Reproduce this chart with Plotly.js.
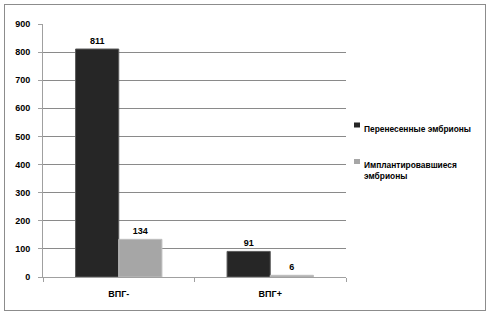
<!DOCTYPE html>
<html><head><meta charset="utf-8">
<script src="https://cdn.plot.ly/plotly-3.0.1.min.js"></script>
<style>
body{margin:0;padding:0;background:#fff;}
#frame{position:absolute;left:4px;top:4px;width:482px;height:307px;border:1px solid #8c8c8c;box-sizing:border-box;pointer-events:none;z-index:5;}
#chart{position:absolute;left:0;top:0;width:488px;height:317px;}
</style></head>
<body>
<div id="chart"></div>
<div id="frame"></div>
<script>
var categories = ['ВПГ-', 'ВПГ+'];
var seriesNames = ['Перенесенные эмбрионы', 'Имплантировавшиеся<br>эмбрионы'];
var seriesColors = ['#262626', '#a6a6a6'];
var transferred = [811, 91];
var implanted = [134, 6];
var yTicks = [0, 100, 200, 300, 400, 500, 600, 700, 800, 900];

var fontFam = 'Liberation Sans, Arial, sans-serif';
var traces = [
  {type:'bar', x:categories, y:transferred, name:seriesNames[0],
   marker:{color:seriesColors[0], line:{color:'#5a5a5a', width:1}},
   text:transferred.map(String), textposition:'outside', cliponaxis:false,
   textfont:{family:fontFam, size:9, color:'#000', weight:'bold'}},
  {type:'bar', x:categories, y:implanted, name:seriesNames[1],
   marker:{color:seriesColors[1], line:{color:'#bfbfbf', width:1}},
   text:implanted.map(String), textposition:'outside', cliponaxis:false,
   textfont:{family:fontFam, size:9, color:'#000', weight:'bold'}}
];

// legend drawn as swatches + text on the right
var legX = 1.0264, legW = 0.0198, legTextX = 1.0528;
var legY = [0.6008, 0.4565];
var shapes = [], annotations = [];
for (var i = 0; i < seriesNames.length; i++) {
  shapes.push({type:'rect', xref:'paper', yref:'paper', x0:legX, x1:legX+legW,
               y0:legY[i]-0.0099, y1:legY[i]+0.0099,
               fillcolor:seriesColors[i], line:{width:0}});
  annotations.push({xref:'paper', yref:'paper', x:legTextX, y:legY[i]+0.012,
                    xanchor:'left', yanchor:'top', align:'left', showarrow:false,
                    text:seriesNames[i],
                    font:{family:fontFam, size:8.4, color:'#000', weight:'bold'}});
}

var layout = {
  width:488, height:317,
  margin:{l:43, r:142, t:24, b:40},
  paper_bgcolor:'#fff', plot_bgcolor:'#fff',
  barmode:'group', bargap:0.43, bargroupgap:0,
  font:{family:fontFam, size:9, color:'#000', weight:'bold'},
  showlegend:false,
  shapes:shapes, annotations:annotations,
  xaxis:{showline:true, linecolor:'#a0a0a0', linewidth:1, ticks:'outside', tickson:'boundaries',
         ticklen:4, tickcolor:'#a0a0a0', showgrid:false, fixedrange:true, ticklabelstandoff:8,
         tickfont:{family:fontFam, size:9, color:'#000', weight:'bold'}},
  yaxis:{range:[0,900], tickvals:yTicks, ticktext:yTicks.map(String), showline:true, linecolor:'#a0a0a0',
         ticks:'outside', ticklen:4, tickcolor:'#a0a0a0', showgrid:true, gridcolor:'#8a8a8a', gridwidth:1,
         zeroline:false, ticklabelstandoff:6,
         tickfont:{family:fontFam, size:9, color:'#000', weight:'bold'}}
};
Plotly.newPlot('chart', traces, layout, {staticPlot:true, displayModeBar:false});
</script>
</body></html>
